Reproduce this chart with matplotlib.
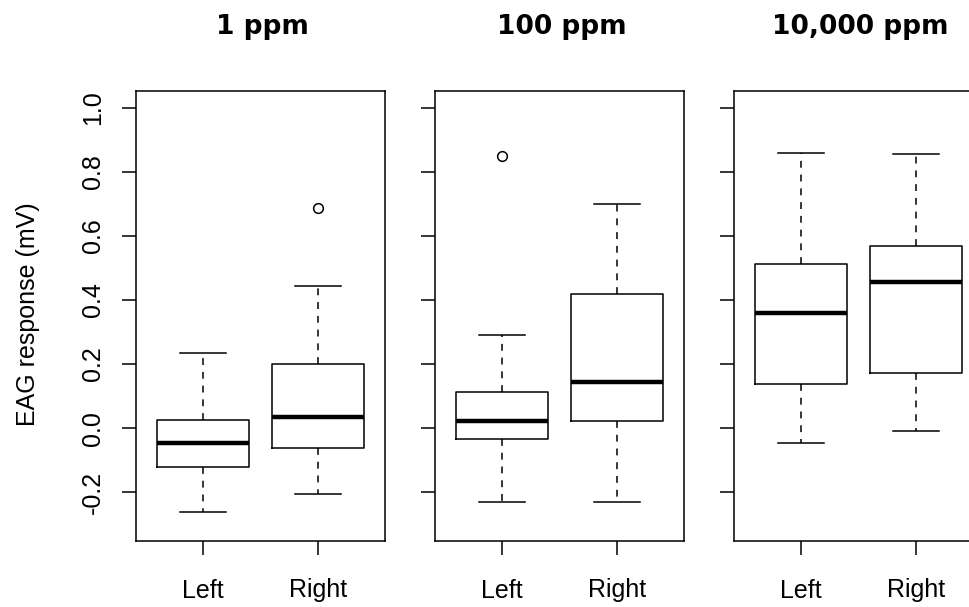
import matplotlib
matplotlib.use("Agg")
import matplotlib.pyplot as plt

plt.rcParams['font.family'] = ['Liberation Sans', 'DejaVu Sans']

# Concentrations (panels) and sides (boxes)
panels = ["1 ppm", "100 ppm", "10,000 ppm"]
sides = ["Left", "Right"]

# Box statistics: [low whisker, Q1, median, Q3, high whisker]
stats_1ppm = [[-0.260, -0.122, -0.045, 0.026, 0.236],
              [-0.205, -0.061, 0.034, 0.200, 0.445]]
stats_100ppm = [[-0.230, -0.035, 0.021, 0.113, 0.291],
                [-0.230, 0.021, 0.143, 0.420, 0.701]]
stats_10000ppm = [[-0.046, 0.139, 0.358, 0.513, 0.860],
                  [-0.009, 0.173, 0.456, 0.569, 0.855]]
outliers_1ppm = [[], [0.686]]
outliers_100ppm = [[0.849], []]
outliers_10000ppm = [[], []]

all_stats = [stats_1ppm, stats_100ppm, stats_10000ppm]
all_outliers = [outliers_1ppm, outliers_100ppm, outliers_10000ppm]

W, H = 969, 607
fig = plt.figure(figsize=(W / 100, H / 100), dpi=100)

lefts = [136, 435, 734]
width = 249
top, bottom = 91, 541

for i, left in enumerate(lefts):
    ax = fig.add_axes([left / W, 1 - bottom / H, width / W, (bottom - top) / H])
    bxp_stats = []
    for s, fl, name in zip(all_stats[i], all_outliers[i], sides):
        bxp_stats.append(dict(whislo=s[0], q1=s[1], med=s[2], q3=s[3],
                              whishi=s[4], fliers=fl, label=name))
    ax.bxp(bxp_stats, positions=[1, 2], widths=0.8,
           boxprops=dict(color="black", linewidth=1.1),
           medianprops=dict(color="black", linewidth=3.2, solid_capstyle="butt"),
           whiskerprops=dict(color="black", linewidth=1.1, linestyle=(0, (4.5, 4.5))),
           capprops=dict(color="black", linewidth=1.1),
           capwidths=0.4,
           flierprops=dict(marker="o", markerfacecolor="none",
                           markeredgecolor="black", markersize=7,
                           markeredgewidth=1.1))
    ax.set_xlim(0.42, 2.58)
    ax.set_ylim(-0.352, 1.052)
    ax.set_yticks([-0.2, 0.0, 0.2, 0.4, 0.6, 0.8, 1.0])
    ax.tick_params(axis="both", direction="out", length=10, width=1.1,
                   labelsize=18)
    ax.tick_params(axis="x", pad=17)
    ax.tick_params(axis="y", pad=12.5)
    if i == 0:
        ax.set_yticklabels(["-0.2", "0.0", "0.2", "0.4", "0.6", "0.8", "1.0"],
                           rotation=90, va="center")
    else:
        ax.set_yticklabels([])
    for sp in ax.spines.values():
        sp.set_linewidth(1.1)
    fig.text((left + width / 2 + 2) / W, 1 - 34.5 / H, panels[i],
             ha="center", va="baseline", fontsize=19, fontweight="bold",
             family="DejaVu Sans")

fig.text(35 / W, 1 - 314 / H, "EAG response (mV)", rotation=90,
         rotation_mode="anchor", ha="center", va="baseline", fontsize=18)

fig.savefig("out.png", dpi=100)
